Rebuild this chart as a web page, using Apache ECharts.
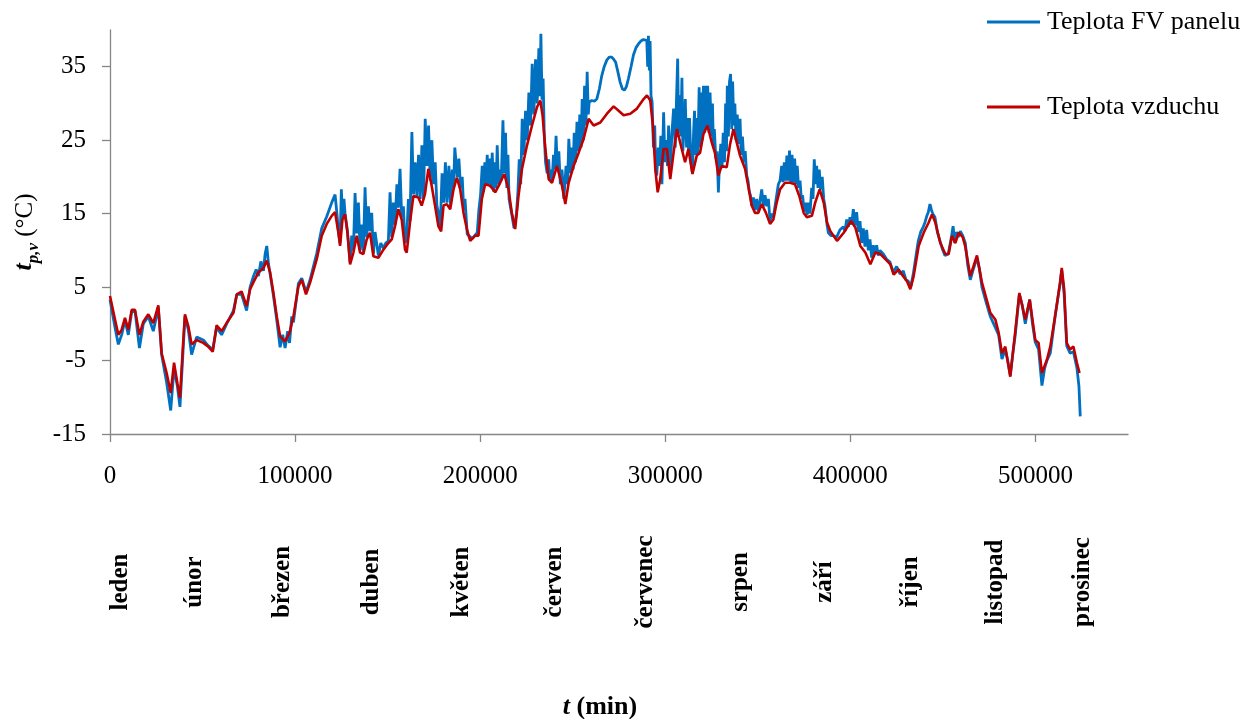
<!DOCTYPE html>
<html>
<head>
<meta charset="utf-8">
<script src="https://cdn.jsdelivr.net/npm/echarts@6/dist/echarts.min.js"></script>
<style>
  html, body { margin: 0; padding: 0; background: #fff; }
  #chart { width: 1260px; height: 719px; }
</style>
</head>
<body>
<div id="chart"></div>
<script>
// Month names shown beneath the time axis
const months = ['leden', 'únor', 'březen', 'duben', 'květen', 'červen',
                'červenec', 'srpen', 'září', 'říjen', 'listopad', 'prosinec'];

// Tick values of both axes
const xTicks = [0, 100000, 200000, 300000, 400000, 500000];
const yTicks = [-15, -5, 5, 15, 25, 35];

// Panel temperature [t (min), °C]
const panel = [
  [0,3.3],[2700,-0.5],[4500,-2.8],[6300,-1.5],[8100,0.5],[9900,-1.5],[11700,1.6],[13500,1.8],
  [15900,-3.3],[18000,0.0],[20700,1.0],[23400,-1.0],[26100,2.2],[27900,-4.2],[30600,-8.0],
  [32800,-11.8],[34600,-6.0],[36400,-8.5],[37800,-11.3],[39300,-4.5],[40500,1.0],[42300,-0.8],
  [44100,-4.2],[46800,-1.8],[50400,-2.2],[53100,-3.0],[55500,-3.5],[57600,-0.5],[60300,-1.5],
  [63000,0.0],[66700,1.8],[68500,4.0],[71100,4.0],[73800,1.8],[75700,5.0],[77400,6.4],[79000,7.4],
  [80200,6.5],[81500,8.5],[82900,7.2],[83800,9.5],[84700,10.6],[85600,8.2],[86500,6.8],[88300,3.8],
  [90100,0.5],[91900,-3.2],[93300,-1.5],[94600,-3.3],[96000,-1.0],[97000,-2.6],[98200,1.0],
  [99100,0.2],[101800,5.5],[103600,6.2],[105900,4.3],[108100,6.0],
  [111700,9.6],[114400,13.0],[117100,14.6],[119800,16.5],[121600,17.6],[122600,15.0],[123400,12.6],
  [124300,11.0],[125000,18.3],[125600,14.5],[126400,17.0],[127000,15.0],[128300,12.6],[129700,8.4],
  [130600,12.0],[131500,10.0],[132400,17.8],[133300,12.3],[134200,16.5],[135100,10.0],[136000,13.5],
  [136900,9.8],[137800,18.6],[138700,11.8],[139600,16.0],[140500,12.6],[141400,15.1],[142300,9.5],
  [143200,12.5],[145000,9.3],[146300,11.0],[147700,10.3],[149000,11.0],[150400,11.3],[151300,17.9],
  [152200,11.8],[153100,16.5],[154000,13.5],[155000,19.0],[155800,15.8],[156700,21.1],[157600,14.5],
  [158500,16.0],[159400,11.0],[160300,11.5],[161200,17.0],[162100,14.0],[163100,26.1],[164000,17.6],
  [164900,22.0],[165800,17.4],[166700,23.0],[167600,17.0],[168500,24.3],[169400,17.0],[170300,27.9],
  [171200,21.5],[172100,27.0],[173000,19.5],[173900,25.0],[174800,19.0],[175700,22.0],[176600,16.1],
  [177500,15.0],[178400,13.0],[179400,20.5],[180300,16.5],[181200,22.0],[182100,16.5],[183100,21.5],
  [184000,16.0],[184900,21.0],[185600,18.5],[186300,24.0],[187600,20.0],[188500,22.5],[189400,18.5],
  [190300,20.0],[191100,15.5],[191800,17.0],[193000,12.2],[195700,11.6],[198400,12.4],[199300,15.5],
  [200200,17.5],[201100,21.5],[201800,18.0],[202500,22.0],[203200,19.0],[203800,23.0],[204500,19.0],
  [205200,22.5],[205900,18.5],[206500,23.3],[207300,18.0],[208000,22.0],[208600,18.5],[209200,24.3],
  [209900,19.0],[210500,21.0],[211400,19.5],[212300,27.7],[213000,20.5],[213700,26.0],[214400,18.5],
  [215000,23.0],[215600,17.0],[217000,15.0],[218300,13.0],[219600,15.0],[220400,18.0],[221100,22.4],
  [221900,19.0],[222700,27.9],[223600,23.0],[224500,29.0],[225400,25.0],[226300,31.5],[227200,27.0],
  [228100,35.4],[229000,28.5],[229900,36.0],[230800,30.0],[231700,37.5],[232300,31.0],[232800,39.5],
  [233400,30.5],[234000,33.4],[234600,26.0],[235300,22.0],[236200,20.5],[237000,22.4],[237600,19.5],
  [238300,21.0],[238900,19.5],[239600,23.0],[240300,21.0],[241000,25.6],[241600,21.5],[242500,23.5],
  [243300,19.0],[244200,21.0],[245200,17.0],[246400,21.5],[247200,19.0],[247900,25.2],[248800,20.5],
  [249500,24.0],[250200,21.0],[250800,26.0],[251500,22.0],[252300,27.5],[253200,23.5],[253800,28.5],
  [254500,24.0],[255100,30.6],[255700,25.0],[256400,32.4],[257100,27.0],[257800,34.3],[258400,28.5],
  [258900,30.2],[260300,30.4],[261700,30.3],[263000,30.6],[264400,32.0],[265700,33.8],[267000,35.0],
  [268400,35.9],[269700,36.3],[271100,36.3],[272200,36.0],[273200,35.6],[274400,34.3],[275600,32.9],
  [276800,32.0],[277900,31.8],[279000,32.3],[280100,33.4],[281500,35.0],[282800,36.6],[284200,37.6],
  [285500,38.1],[286800,38.5],[288200,38.7],[289200,38.8],[290000,38.6],[290500,35.0],[290900,39.2],
  [291400,34.5],[291800,38.5],[292300,31.0],[292900,30.2],[293600,24.0],[294300,27.0],[294800,21.0],
  [295400,20.2],[296200,24.0],[297000,21.5],[297600,25.6],[298200,19.0],[299100,28.8],[299800,22.0],
  [300500,25.0],[301200,21.5],[301800,27.0],[302700,20.5],[303600,26.0],[304500,29.3],[305400,24.0],
  [306000,30.0],[306700,36.1],[307200,26.0],[307700,31.1],[308400,25.5],[309000,33.5],[309500,23.5],
  [310200,27.0],[310800,30.6],[311500,24.0],[312000,28.0],[312600,23.5],[313100,28.0],[313900,22.0],
  [314700,20.5],[315300,26.0],[315800,29.0],[316400,23.0],[317000,28.0],[317600,23.0],[318300,32.2],
  [318800,24.0],[319400,31.5],[320000,25.0],[320600,32.4],[321300,26.0],[321900,32.4],[322500,27.0],
  [322900,32.4],[323600,26.0],[324200,31.5],[324900,25.5],[325500,30.0],[326000,24.0],[326500,26.5],
  [327300,22.5],[328000,23.5],[328700,17.9],[329300,22.0],[330000,24.5],[330700,21.5],[331300,26.0],
  [332000,22.0],[332600,30.0],[333100,23.5],[333500,32.4],[334100,25.5],[334700,33.0],[335300,34.0],
  [335900,26.5],[336400,33.0],[337000,27.0],[337600,30.0],[338200,25.0],[338900,28.5],[339600,24.5],
  [340400,27.9],[341000,23.0],[341700,25.5],[342500,22.0],[343200,23.5],[344000,20.2],[344700,19.5],
  [345400,18.0],[346100,17.4],[346700,16.1],[347600,17.2],[348500,15.5],[349400,17.0],[350300,15.3],
  [351200,16.8],[352100,18.3],[353000,16.0],[353900,17.5],[354800,16.0],[355700,17.0],[356600,14.0],
  [357500,15.0],[358400,14.5],[359300,16.0],[360200,17.5],[361100,19.0],[362000,19.5],[362900,21.5],
  [363600,19.3],[364300,22.0],[365000,19.5],[365700,22.9],[366400,19.5],[367100,23.6],[367800,19.3],
  [368500,23.0],[369200,19.2],[369900,22.5],[370600,19.0],[371300,21.5],[372000,18.5],[372800,19.5],
  [373500,17.0],[374200,17.5],[375000,15.3],[375800,16.5],[376600,14.8],[377300,16.5],[378200,15.0],
  [379100,18.5],[379800,17.0],[380500,22.4],[381200,19.0],[381800,21.5],[382500,18.5],[383200,21.0],
  [383900,18.3],[384800,20.0],[385600,17.0],[386300,16.0],[387400,13.5],[388100,12.4],[389500,12.0],
  [390800,12.0],[392600,11.8],[394400,12.8],[396200,13.2],[397100,12.6],[398000,14.2],[398900,13.2],
  [399800,14.5],[400700,13.5],[401600,15.6],[402500,13.4],[403400,15.2],[404300,12.5],[405200,14.0],
  [406100,11.0],[407000,13.0],[407900,10.5],[408800,12.8],[409700,10.0],[410600,11.5],[411500,9.0],
  [412400,10.7],[413300,9.5],[414200,10.7],[415100,9.3],[416000,10.0],[417800,9.5],[419600,8.8],
  [421400,8.4],[423200,7.0],[425000,7.8],[426800,6.8],[428600,7.2],[430000,6.0],[431300,5.8],
  [432600,5.0],[434000,6.8],[435300,9.0],[436700,11.3],[438000,12.5],[439400,13.2],[440300,13.8],
  [441200,14.6],[442100,15.2],[443000,16.3],[443800,15.5],[444500,15.0],[445700,14.5],[447000,12.5],
  [448400,11.3],[449700,10.2],[451100,9.3],[452900,9.5],[454000,11.0],[454700,12.0],[455500,13.3],
  [456400,11.0],[457400,12.5],[458300,11.8],[459400,12.6],[460700,12.0],[462100,11.0],[463400,8.0],
  [464800,6.0],[466500,7.5],[468400,9.0],[469700,7.5],[471100,5.0],[473300,3.0],[475600,1.0],
  [478300,-0.5],[480100,-1.5],[481900,-4.8],[483700,-3.5],[485000,-5.0],[486400,-7.0],[487800,-4.0],
  [489100,-1.5],[491300,4.0],[492900,2.5],[494500,0.0],[496900,3.3],[498400,0.0],[499900,-2.5],
  [501700,-3.5],[503500,-8.4],[505000,-6.0],[506200,-5.0],[508000,-4.0],[510600,1.0],[513300,5.5],
  [514200,7.3],[515500,4.0],[516900,-3.0],[518700,-4.0],[520500,-3.8],[522400,-6.0],[523500,-8.5],
  [524200,-12.6]
];

// Air temperature [t (min), °C]
const air = [
  [0,3.8],[2700,0.6],[4500,-1.5],[6300,-0.8],[8100,0.8],[9900,-0.8],[11700,1.9],[13500,1.9],
  [15900,-1.5],[18000,0.3],[20700,1.3],[23400,0.1],[26100,2.5],[27900,-4.0],[30600,-6.7],
  [32800,-9.4],[34600,-5.3],[36400,-8.1],[37800,-10.1],[39300,-3.5],[40500,1.3],[42300,-0.3],
  [44100,-2.8],[46800,-2.2],[50400,-2.6],[53100,-3.1],[55500,-3.8],[57600,-0.2],[60300,-1.0],
  [63000,0.1],[66700,1.5],[68500,4.0],[71100,4.4],[73800,2.4],[75700,4.7],[77400,5.6],[80200,7.0],
  [82900,7.6],[84700,8.6],[86500,7.0],[88300,4.2],[90100,1.0],[91900,-1.7],[94600,-2.4],[97000,-1.2],
  [99100,1.0],[101800,5.1],[103600,6.0],[105900,4.0],[108100,5.6],[111700,8.8],[114400,12.0],
  [117100,13.6],[119800,14.7],[121600,15.2],[123400,12.4],[124300,10.6],[125600,14.2],[127000,14.9],
  [128300,12.4],[129700,8.1],[131500,9.7],[133300,12.0],[135100,9.7],[136900,9.5],[138700,11.5],
  [140500,12.4],[142300,9.2],[145000,9.0],[147700,10.1],[150400,11.0],[152200,11.5],[154000,13.3],
  [155800,15.6],[157600,14.2],[159400,10.1],[160300,9.7],[162100,13.8],[163900,17.4],[166600,17.2],
  [168400,16.1],[170200,17.7],[172000,21.1],[173800,18.8],[175600,16.1],[177400,13.3],[178900,12.6],
  [180200,16.1],[182000,16.3],[183800,15.6],[185600,18.3],[187400,19.9],[189200,18.3],[191000,15.1],
  [192800,12.9],[194600,11.3],[197300,12.0],[199100,12.0],[200900,17.0],[202700,19.0],[205400,18.8],
  [208100,17.9],[210800,19.2],[213000,20.4],[215300,18.3],[217100,15.1],[218900,12.9],[220700,17.4],
  [222600,21.1],[225300,24.3],[228000,27.0],[230700,29.5],[232500,30.4],[233700,28.4],[235200,23.8],
  [237000,19.7],[238800,19.2],[241500,21.5],[244200,18.8],[246000,16.3],[247800,19.2],[250500,21.5],
  [253200,23.3],[255900,25.2],[258600,27.9],[261300,27.0],[264900,27.4],[268500,28.6],[272100,29.6],
  [274800,29.0],[277500,28.4],[281100,28.6],[284700,29.3],[288300,30.6],[290100,31.1],[291900,30.4],
  [293300,27.0],[294600,21.1],[295900,17.9],[297300,19.7],[299100,23.8],[300900,23.8],[302700,19.7],
  [304500,23.3],[306300,26.5],[308900,23.8],[310700,22.0],[312500,23.8],[314700,20.4],[317000,22.9],
  [318800,23.3],[320600,25.8],[322800,27.0],[325100,24.7],[326800,23.3],[328700,20.2],[330500,21.5],
  [333200,21.3],[334900,24.3],[336800,26.5],[338600,24.7],[340400,22.9],[343100,21.1],[344800,18.8],
  [346700,16.1],[348500,15.1],[350300,15.1],[352100,16.3],[354400,15.1],[356600,13.6],[358400,14.2],
  [360200,16.5],[362000,18.3],[364700,19.2],[367400,19.2],[370100,19.0],[372400,17.4],[374800,15.1],
  [376500,14.5],[379200,14.7],[381000,16.5],[383400,18.3],[385600,16.5],[387400,13.8],[389200,12.6],
  [392800,11.3],[396400,12.4],[400400,14.0],[402700,13.1],[405400,10.6],[408100,9.7],[410800,8.1],
  [413500,9.7],[416200,9.5],[418900,8.8],[421600,8.1],[423400,6.7],[426100,7.4],[427900,6.7],
  [430600,5.8],[432400,4.7],[434200,6.5],[436900,10.6],[439600,12.4],[442300,13.8],[444100,14.9],
  [445900,13.8],[448600,11.0],[451300,9.5],[453100,9.5],[454900,12.0],[456700,11.0],[458500,12.4],
  [460700,11.8],[462100,10.5],[464800,6.5],[468400,9.3],[471100,5.6],[475600,1.5],[478300,0.6],
  [480100,-1.2],[481900,-4.0],[483700,-3.1],[486400,-7.2],[489100,-1.0],[491300,4.2],[494500,0.6],
  [496900,3.3],[499900,-2.2],[501700,-2.6],[503500,-6.7],[506200,-4.9],[508000,-3.1],[510600,1.0],
  [513300,5.6],[514200,7.6],[515500,4.7],[516900,-2.6],[518700,-3.5],[520500,-3.1],[522400,-5.3],
  [523800,-6.7]
];

const SERIF = "'Liberation Serif', 'Times New Roman', serif";
const AXIS_GREY = '#868686';

// Horizontal centres of the rotated month labels (px)
const monthLabelX = [121, 195, 283, 372, 462, 555, 646, 741, 825, 911, 996, 1083];

const chart = echarts.init(document.getElementById('chart'), null, { renderer: 'canvas' });

const monthGraphics = months.map((m, i) => ({
  type: 'text',
  x: monthLabelX[i],
  y: 582,
  rotation: Math.PI / 2,
  style: {
    text: m,
    font: 'bold 25px ' + SERIF,
    fill: '#000',
    align: 'center',
    verticalAlign: 'middle'
  }
}));

const legendBase = {
  left: 987,
  padding: 0,
  icon: 'rect',
  itemWidth: 53,
  itemHeight: 3,
  textStyle: { fontFamily: SERIF, fontSize: 26, color: '#000', padding: [0, 0, 0, 2] }
};

const option = {
  backgroundColor: '#fff',
  animation: false,
  grid: { left: 110, right: 132, top: 30, bottom: 285, containLabel: false },
  legend: [
    Object.assign({ data: ['Teplota FV panelu'], top: 9 }, legendBase),
    Object.assign({ data: ['Teplota vzduchu'], top: 94 }, legendBase)
  ],
  xAxis: {
    type: 'value',
    min: 0, max: 550000, interval: 100000,
    splitLine: { show: false },
    axisLine: { onZero: false, lineStyle: { color: AXIS_GREY, width: 1.3 } },
    axisTick: { length: 8, customValues: xTicks, lineStyle: { color: AXIS_GREY, width: 1.3 } },
    axisLabel: {
      customValues: xTicks,
      margin: 30,
      fontFamily: SERIF, fontSize: 25, color: '#000',
      formatter: v => String(v)
    }
  },
  yAxis: {
    type: 'value',
    min: -15, max: 40, interval: 10,
    splitLine: { show: false },
    axisLine: { show: true, onZero: false, lineStyle: { color: AXIS_GREY, width: 1.3 } },
    axisTick: { show: true, length: 8, customValues: yTicks, lineStyle: { color: AXIS_GREY, width: 1.3 } },
    axisLabel: {
      customValues: yTicks,
      margin: 24,
      fontFamily: SERIF, fontSize: 25, color: '#000'
    },
    name: '{t|t}{s|p,v}{u| (°C)}',
    nameLocation: 'middle',
    nameGap: 70,
    nameRotate: 90,
    nameTextStyle: {
      fontFamily: SERIF,
      rich: {
        t: { fontFamily: SERIF, fontSize: 26, fontWeight: 'bold', fontStyle: 'italic', color: '#000', lineHeight: 30, verticalAlign: 'bottom' },
        s: { fontFamily: SERIF, fontSize: 17, fontWeight: 'bold', fontStyle: 'italic', color: '#000', lineHeight: 22, verticalAlign: 'bottom', padding: [0, 0, -4, 0] },
        u: { fontFamily: SERIF, fontSize: 25, color: '#000', lineHeight: 30, verticalAlign: 'bottom' }
      }
    }
  },
  graphic: monthGraphics.concat([
    {
      type: 'text',
      x: 600, y: 707,
      style: {
        text: '{t|t}{r| (min)}',
        align: 'center',
        verticalAlign: 'middle',
        rich: {
          t: { font: 'bold italic 26px ' + SERIF, fill: '#000' },
          r: { font: 'bold 26px ' + SERIF, fill: '#000' }
        }
      }
    }
  ]),
  series: [
    {
      name: 'Teplota FV panelu',
      type: 'line',
      data: panel,
      symbol: 'none',
      smooth: false,
      lineStyle: { color: '#0070C0', width: 2.8 },
      itemStyle: { color: '#0070C0' },
      z: 2
    },
    {
      name: 'Teplota vzduchu',
      type: 'line',
      data: air,
      symbol: 'none',
      smooth: false,
      lineStyle: { color: '#C00000', width: 2.6 },
      itemStyle: { color: '#C00000' },
      z: 3
    }
  ]
};

chart.setOption(option);
</script>
</body>
</html>
